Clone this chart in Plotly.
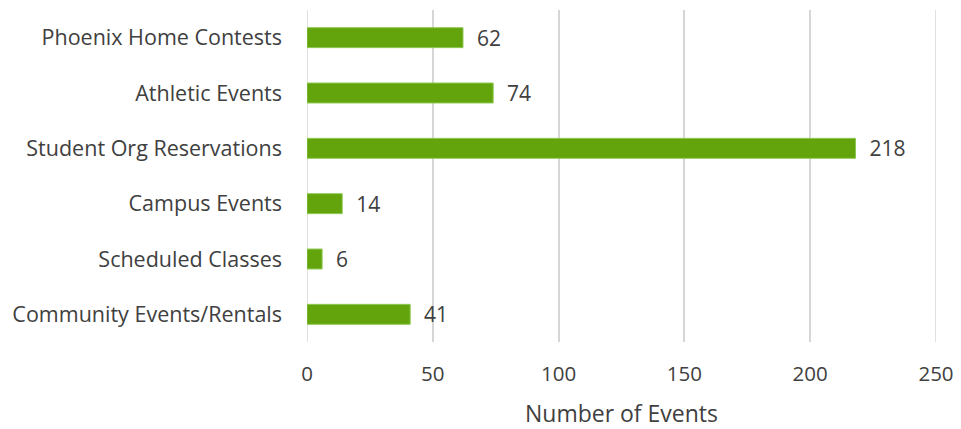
import plotly.graph_objects as go

categories = ["Phoenix Home Contests", "Athletic Events", "Student Org Reservations",
              "Campus Events", "Scheduled Classes", "Community Events/Rentals"]
values = [62, 74, 218, 14, 6, 41]
tick_vals = [0, 50, 100, 150, 200, 250]

FONT = "Open Sans"
GRID = "#d6d6d6"
fig = go.Figure(go.Bar(
    y=categories, x=values, orientation="h",
    marker=dict(color="#63a30c", line=dict(color="#8cc850", width=1)),
    width=0.36,
    text=["  " + str(v) for v in values], textposition="outside",
    constraintext="none",
    textfont=dict(family=FONT, size=21, color="#404040"),
    cliponaxis=False,
))
fig.update_layout(
    width=953, height=421,
    margin=dict(l=299, r=25, t=2, b=87),
    paper_bgcolor="white", plot_bgcolor="white",
    showlegend=False,
    font=dict(family=FONT, size=21, color="#404040"),
    xaxis=dict(range=[0, 250], tickvals=tick_vals, showgrid=True,
               gridcolor=GRID, gridwidth=1.5, zeroline=False,
               showline=False, ticks="", ticklabelstandoff=17,
               title=dict(text="Number of Events", font=dict(size=23), standoff=20),
               tickfont=dict(size=20.5)),
    yaxis=dict(autorange="reversed", showgrid=False, ticks="",
               ticklabelstandoff=24, tickfont=dict(size=21.5)),
)
for xv in (tick_vals[0], tick_vals[-1]):
    fig.add_shape(type="line", xref="x", yref="paper", x0=xv, x1=xv, y0=0, y1=1,
                  line=dict(color=GRID, width=1.5), layer="below")
fig.write_html("out.html")
